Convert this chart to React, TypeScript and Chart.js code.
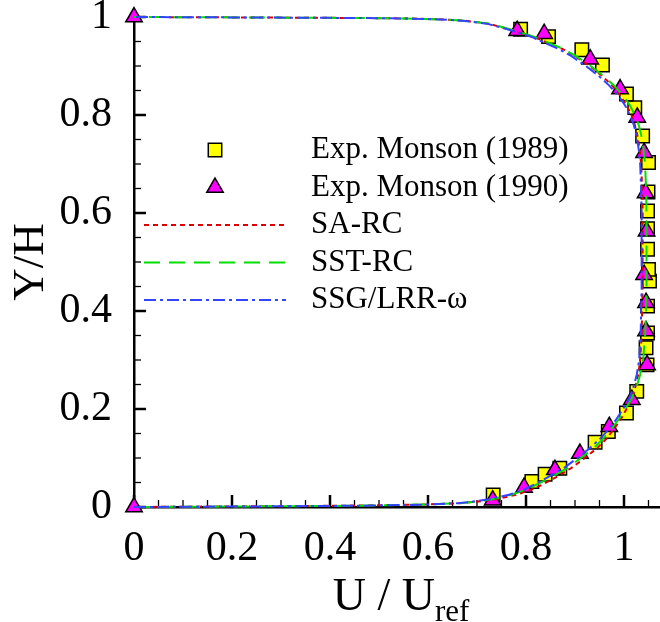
import React, { useEffect, useRef } from 'react';
import { Chart, registerables } from 'chart.js';

Chart.register(...registerables);

const SERIF = '"Liberation Serif", "Times New Roman", serif';

// Experimental velocity profiles (U/Uref, Y/H)
const MONSON_1989_U = [0.733, 0.812, 0.839, 0.869, 0.941, 0.968, 1.005, 1.026, 1.047, 1.045, 1.048, 1.048, 1.052, 1.050, 1.048, 1.048, 1.048, 1.049, 1.050, 1.038, 1.022, 1.005, 0.956, 0.914, 0.846, 0.789];
const MONSON_1989_Y = [0.0245, 0.052, 0.067, 0.079, 0.132, 0.154, 0.192, 0.236, 0.290, 0.325, 0.355, 0.410, 0.461, 0.485, 0.526, 0.568, 0.604, 0.643, 0.703, 0.757, 0.815, 0.843, 0.902, 0.933, 0.960, 0.975];

const MONSON_1990_U = [0.0, 0.732, 0.796, 0.859, 0.910, 0.970, 1.016, 1.047, 1.045, 1.045, 1.041, 1.046, 1.044, 1.041, 1.027, 0.992, 0.931, 0.837, 0.782, 0.0];
const MONSON_1990_Y = [0.0, 0.014, 0.040, 0.076, 0.109, 0.164, 0.219, 0.290, 0.359, 0.417, 0.474, 0.563, 0.641, 0.723, 0.795, 0.853, 0.914, 0.966, 0.972, 1.0];

// Computed profiles share one set of wall-normal stations
const MODEL_Y = [0, 0.001, 0.002, 0.003, 0.005, 0.008, 0.012, 0.016, 0.025, 0.035, 0.045, 0.06, 0.08, 0.10, 0.12, 0.14, 0.16, 0.18, 0.20, 0.22, 0.24, 0.27, 0.30, 0.35, 0.40, 0.45, 0.50, 0.55, 0.60, 0.65, 0.70, 0.73, 0.76, 0.78, 0.80, 0.82, 0.84, 0.86, 0.88, 0.90, 0.92, 0.935, 0.95, 0.958, 0.965, 0.975, 0.986, 0.992, 0.995, 0.997, 0.998, 0.999, 1.0];
const SA_RC_U = [0, 0.18, 0.35, 0.46, 0.59, 0.67, 0.71, 0.74, 0.78, 0.81, 0.832, 0.86, 0.893, 0.92, 0.945, 0.965, 0.98, 0.994, 1.005, 1.015, 1.022, 1.029, 1.033, 1.036, 1.037, 1.038, 1.038, 1.038, 1.038, 1.037, 1.035, 1.032, 1.027, 1.022, 1.015, 1.005, 0.992, 0.976, 0.955, 0.93, 0.90, 0.874, 0.838, 0.82, 0.798, 0.765, 0.725, 0.68, 0.63, 0.56, 0.46, 0.26, 0];
const SST_RC_U = [0, 0.20, 0.38, 0.48, 0.60, 0.67, 0.705, 0.732, 0.77, 0.80, 0.82, 0.85, 0.885, 0.912, 0.938, 0.958, 0.975, 0.990, 1.003, 1.015, 1.024, 1.033, 1.039, 1.043, 1.045, 1.046, 1.046, 1.046, 1.046, 1.045, 1.043, 1.040, 1.035, 1.030, 1.022, 1.012, 0.998, 0.980, 0.958, 0.932, 0.902, 0.876, 0.840, 0.822, 0.800, 0.767, 0.727, 0.68, 0.63, 0.55, 0.45, 0.25, 0];
const SSG_LRR_U = [0, 0.21, 0.39, 0.49, 0.60, 0.665, 0.70, 0.725, 0.765, 0.795, 0.815, 0.843, 0.878, 0.905, 0.93, 0.952, 0.97, 0.985, 0.998, 1.01, 1.018, 1.026, 1.031, 1.034, 1.035, 1.036, 1.036, 1.036, 1.036, 1.035, 1.033, 1.030, 1.025, 1.020, 1.012, 1.002, 0.988, 0.97, 0.948, 0.922, 0.893, 0.866, 0.832, 0.815, 0.795, 0.762, 0.722, 0.675, 0.625, 0.55, 0.45, 0.25, 0];

const SERIES_LABELS = ['Exp. Monson (1989)', 'Exp. Monson (1990)', 'SA-RC', 'SST-RC', 'SSG/LRR-ω'];

const X_MIN = 0;
const X_MAX = 1.1;
const Y_MIN = 0;
const Y_MAX = 1;
const MINOR_STEP = 0.05;
const MAJOR_STEP = 0.2;

const pts = (xs: number[], ys: number[]) => xs.map((x, i) => ({ x, y: ys[i] }));

const isMajor = (v: number) => Math.abs(v / MAJOR_STEP - Math.round(v / MAJOR_STEP)) < 1e-6;
const tickText = (v: number) => (isMajor(v) ? String(Number(v.toFixed(1))) : '');

const RED = '#dd0000';
const GREEN = '#00dd00';
const BLUE = '#3344ff';
const YELLOW = '#ffff00';
const MAGENTA = '#ff00ff';

const DASH_SA = [5, 4];
const DASH_SST = [16, 9];
const DASH_SSG = [12, 4, 3, 4];

const MARKER_R = 9.5;

const decorations = {
  id: 'decorations',
  beforeDatasetsDraw(chart: any) {
    const { ctx, chartArea, scales } = chart;
    const xs = scales.x;
    const ys = scales.y;
    ctx.save();
    ctx.strokeStyle = '#000';
    ctx.lineCap = 'butt';
    for (const t of xs.ticks) {
      const px = xs.getPixelForValue(t.value);
      const major = isMajor(t.value);
      ctx.lineWidth = major ? 2.5 : 1.3;
      ctx.beginPath();
      ctx.moveTo(px, chartArea.bottom);
      ctx.lineTo(px, chartArea.bottom - (major ? 12 : 7));
      ctx.stroke();
    }
    for (const t of ys.ticks) {
      const py = ys.getPixelForValue(t.value);
      const major = isMajor(t.value);
      ctx.lineWidth = major ? 2.5 : 1.3;
      ctx.beginPath();
      ctx.moveTo(chartArea.left, py);
      ctx.lineTo(chartArea.left + (major ? 12 : 7), py);
      ctx.stroke();
    }
    ctx.restore();
  },
  afterDraw(chart: any) {
    const { ctx, chartArea } = chart;
    ctx.save();

    // legend
    const rowY = [150, 187.5, 225, 262.5, 300];
    const markerX = 215;
    const lineX0 = 144;
    const lineX1 = 286;
    const textX = 311;

    // square marker
    ctx.setLineDash([]);
    ctx.lineWidth = 1.5;
    ctx.strokeStyle = '#000';
    ctx.fillStyle = YELLOW;
    const s = MARKER_R * Math.SQRT1_2;
    ctx.beginPath();
    ctx.rect(markerX - s, rowY[0] - s, 2 * s, 2 * s);
    ctx.fill();
    ctx.stroke();

    // triangle marker
    const r = MARKER_R;
    ctx.fillStyle = MAGENTA;
    ctx.beginPath();
    ctx.moveTo(markerX, rowY[1] - r);
    ctx.lineTo(markerX + r * Math.sin((2 * Math.PI) / 3), rowY[1] - r * Math.cos((2 * Math.PI) / 3));
    ctx.lineTo(markerX + r * Math.sin((4 * Math.PI) / 3), rowY[1] - r * Math.cos((4 * Math.PI) / 3));
    ctx.closePath();
    ctx.fill();
    ctx.stroke();

    const lines: [string, number[]][] = [
      [RED, DASH_SA],
      [GREEN, DASH_SST],
      [BLUE, DASH_SSG],
    ];
    lines.forEach(([color, dash], i) => {
      ctx.strokeStyle = color;
      ctx.lineWidth = 2;
      ctx.setLineDash(dash);
      ctx.beginPath();
      ctx.moveTo(lineX0, rowY[i + 2]);
      ctx.lineTo(lineX1, rowY[i + 2]);
      ctx.stroke();
    });
    ctx.setLineDash([]);

    ctx.fillStyle = '#000';
    ctx.font = `31px ${SERIF}`;
    ctx.textAlign = 'left';
    ctx.textBaseline = 'middle';
    SERIES_LABELS.forEach((label, i) => ctx.fillText(label, textX, rowY[i]));

    // x-axis title with subscript
    const mainFont = `46px ${SERIF}`;
    const subFont = `31px ${SERIF}`;
    const main = 'U / U';
    const sub = 'ref';
    ctx.font = mainFont;
    const wMain = ctx.measureText(main).width;
    ctx.font = subFont;
    const wSub = ctx.measureText(sub).width;
    const cx = (chartArea.left + 668) / 2;
    const x0 = cx - (wMain + wSub) / 2;
    const baseY = 610;
    ctx.textBaseline = 'alphabetic';
    ctx.font = mainFont;
    ctx.fillText(main, x0, baseY);
    ctx.font = subFont;
    ctx.fillText(sub, x0 + wMain, baseY + 11);

    ctx.restore();
  },
};

export default function App() {
  const canvasRef = useRef<HTMLCanvasElement | null>(null);

  useEffect(() => {
    document.body.style.margin = '0';
    const canvas = canvasRef.current;
    if (!canvas) return;

    const modelLine = (label: string, xs: number[], color: string, dash: number[], order: number) => ({
      label,
      data: pts(xs, MODEL_Y),
      showLine: true,
      borderColor: color,
      borderWidth: 2,
      borderDash: dash,
      pointRadius: 0,
      pointHoverRadius: 0,
      fill: false,
      tension: 0,
      clip: false as const,
      order,
    });

    const chart = new Chart(canvas, {
      type: 'scatter',
      data: {
        datasets: [
          modelLine(SERIES_LABELS[2], SA_RC_U, RED, DASH_SA, 2),
          modelLine(SERIES_LABELS[3], SST_RC_U, GREEN, DASH_SST, 1),
          modelLine(SERIES_LABELS[4], SSG_LRR_U, BLUE, DASH_SSG, 0),
          {
            label: SERIES_LABELS[1],
            data: pts(MONSON_1990_U, MONSON_1990_Y),
            pointStyle: 'triangle',
            pointRadius: MARKER_R,
            pointBackgroundColor: MAGENTA,
            pointBorderColor: '#000',
            pointBorderWidth: 1.5,
            clip: false as const,
            order: 3,
          },
          {
            label: SERIES_LABELS[0],
            data: pts(MONSON_1989_U, MONSON_1989_Y),
            pointStyle: 'rect',
            pointRadius: MARKER_R,
            pointBackgroundColor: YELLOW,
            pointBorderColor: '#000',
            pointBorderWidth: 1.5,
            clip: false as const,
            order: 4,
          },
        ],
      },
      options: {
        responsive: false,
        animation: false,
        events: [],
        layout: { padding: { left: 0, top: 17, right: 27, bottom: 0 } },
        plugins: {
          legend: { display: false },
          tooltip: { enabled: false },
        },
        scales: {
          x: {
            type: 'linear',
            min: X_MIN,
            max: X_MAX,
            grid: { display: false },
            border: { display: true, color: '#000', width: 2.5 },
            ticks: {
              stepSize: MINOR_STEP,
              autoSkip: false,
              maxRotation: 0,
              padding: 9,
              color: '#000',
              font: { family: SERIF, size: 42 },
              callback: (v: any) => tickText(Number(v)),
            },
            afterFit: (scale: any) => {
              scale.height = 115;
              scale.paddingLeft = 0;
              scale.paddingRight = 0;
            },
          },
          y: {
            type: 'linear',
            min: Y_MIN,
            max: Y_MAX,
            grid: { display: false },
            border: { display: true, color: '#000', width: 2.5 },
            title: {
              display: true,
              text: 'Y/H',
              color: '#000',
              font: { family: SERIF, size: 45 },
              padding: { top: 4, bottom: 0 },
            },
            ticks: {
              stepSize: MINOR_STEP,
              autoSkip: false,
              padding: 14,
              color: '#000',
              font: { family: SERIF, size: 42 },
              callback: (v: any) => tickText(Number(v)),
            },
            afterFit: (scale: any) => {
              scale.width = 134;
              scale.paddingTop = 0;
              scale.paddingBottom = 0;
            },
          },
        },
      },
      plugins: [decorations],
    });

    return () => chart.destroy();
  }, []);

  return (
    <div style={{ width: 660, height: 622, overflow: 'hidden', background: '#fff' }}>
      <canvas ref={canvasRef} width={700} height={622} style={{ display: 'block' }} />
    </div>
  );
}
